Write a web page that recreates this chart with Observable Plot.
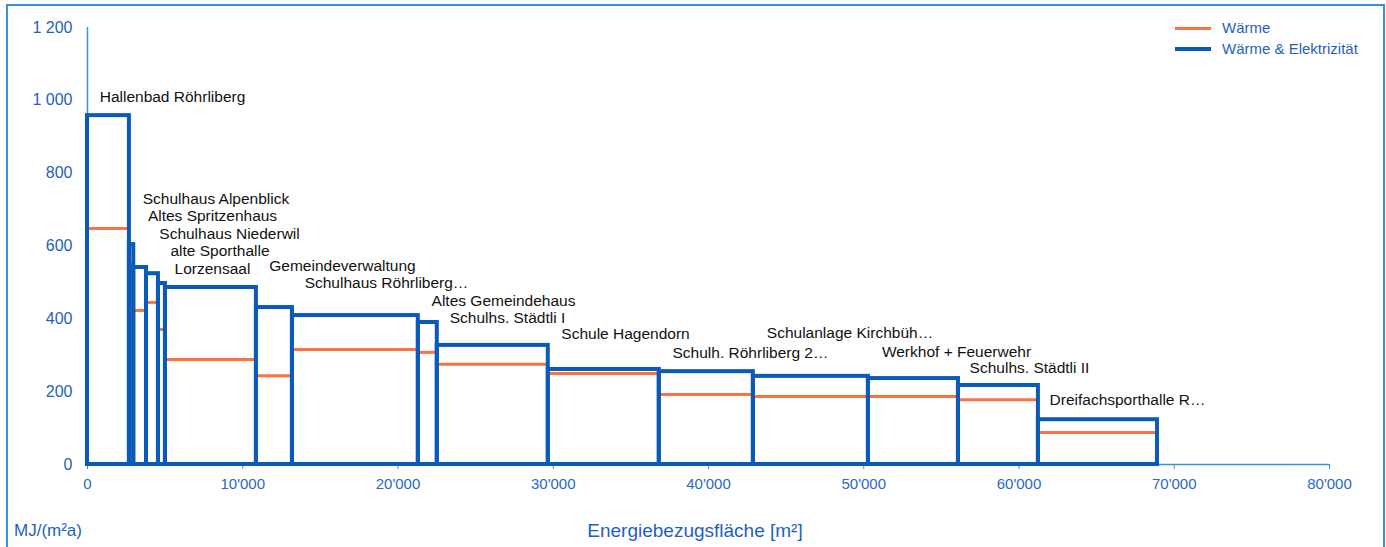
<!DOCTYPE html>
<html>
<head>
<meta charset="utf-8">
<script src="https://cdn.jsdelivr.net/npm/d3@7"></script>
<script src="https://cdn.jsdelivr.net/npm/@observablehq/plot@0.6"></script>
<style>
  html, body { margin: 0; padding: 0; background: #fff; }
  body { width: 1386px; height: 547px; position: relative; overflow: hidden; font-family: "Liberation Sans", Arial, sans-serif; }
  #frame { position: absolute; left: 6px; top: 4px; width: 1375px; height: 600px; border: 2px solid #3a8fe3; pointer-events: none; }
  #chart { position: absolute; left: 0; top: 0; }
  .lg { position: absolute; font-size: 15px; color: #1f5fbf; white-space: nowrap; }
  .sw { position: absolute; height: 3px; width: 36px; }
  .ttl { position: absolute; color: #1f5fbf; white-space: nowrap; }
</style>
</head>
<body>
<div id="chart"></div>
<div id="frame"></div>
<div class="sw" style="left:1175px;top:27px;background:#ff7043"></div>
<div class="lg" style="left:1222px;top:19px">Wärme</div>
<div class="sw" style="left:1175px;top:47px;height:4px;background:#0a5ab9"></div>
<div class="lg" style="left:1222px;top:40px">Wärme &amp; Elektrizität</div>
<div class="ttl" style="left:14px;top:521px;font-size:17px">MJ/(m²a)</div>
<div class="ttl" style="left:695px;top:520px;font-size:19px;transform:translateX(-50%)">Energiebezugsfläche [m²]</div>
<script>
const names = ["Hallenbad Röhrliberg", "Schulhaus Alpenblick", "Altes Spritzenhaus", "Schulhaus Niederwil", "alte Sporthalle", "Lorzensaal", "Gemeindeverwaltung", "Schulhaus Röhrliberg…", "Altes Gemeindehaus", "Schulhs. Städtli I", "Schule Hagendorn", "Schulh. Röhrliberg 2…", "Schulanlage Kirchbüh…", "Werkhof + Feuerwehr", "Schulhs. Städtli II", "Dreifachsporthalle R…"];
const areas = [2700, 280, 820, 770, 450, 5860, 2320, 8110, 1220, 7150, 7150, 6060, 7410, 5800, 5150, 7670];
const waerme = [648, 552, 423, 445, 371, 288, 244, 316, 308, 275, 250, 192, 187, 187, 178, 88];
const waermeElektro = [958, 604, 541, 524, 497, 486, 431, 409, 390, 327, 261, 255, 242, 236, 217, 123];
// label anchors in data units (m², MJ/(m²a))
const labelX = [5475, 8277, 8052, 9147, 8535, 8052, 16425, 19259, 26796, 27053, 34654, 42705, 49114, 55974, 60676, 66989];
const labelY = [1008, 730, 681, 634, 585, 538, 544, 497, 450, 401, 357, 305, 360, 310, 264, 176];
const xTicks = [0, 10000, 20000, 30000, 40000, 50000, 60000, 70000, 80000];
const yTicks = [0, 200, 400, 600, 800, 1000, 1200];

let acc = 0;
const rows = names.map((n, i) => {
  const x1 = acc; acc += areas[i];
  return { name: n, x1, x2: acc, heat: waerme[i], total: waermeElektro[i], lx: labelX[i], ly: labelY[i] };
});

const axisBlue = "#3a8fe3";
const textBlue = "#1f5fbf";
const xTextBlue = "#2a68c8";
const boxBlue = "#0a5ab9";
const orange = "#ff7043";

const fmtX = v => d3.format(",")(v).replace(/,/g, "'");
const fmtY = v => d3.format(",")(v).replace(/,/g, " ");

const chart = Plot.plot({
  width: 1386,
  height: 547,
  marginLeft: 87,
  marginRight: 57,
  marginTop: 27,
  marginBottom: 83,
  style: { fontFamily: "'Liberation Sans', Arial, sans-serif", fontSize: "14px", background: "transparent", overflow: "visible" },
  x: { domain: [0, 80000] },
  y: { domain: [0, 1200] },
  marks: [
    Plot.ruleX([0], { y1: 0, y2: 1200, stroke: axisBlue, strokeWidth: 1.5 }),
    Plot.ruleY([0], { x1: 0, x2: 80000, stroke: axisBlue, strokeWidth: 1.5 }),
    Plot.axisX({ ticks: xTicks, tickFormat: fmtX, tickSize: 5, tickPadding: 9, stroke: axisBlue, fill: xTextBlue, fontSize: 15, label: null }),
    Plot.axisY({ ticks: yTicks, tickFormat: fmtY, tickSize: 0, tickPadding: 15, fill: textBlue, fontSize: 16, label: null }),
    Plot.ruleY(rows, { x1: "x1", x2: "x2", y: "heat", stroke: orange, strokeWidth: 3 }),
    Plot.rect(rows, { x1: "x1", x2: "x2", y1: 0, y2: "total", stroke: boxBlue, strokeWidth: 4, fill: "none" }),
    Plot.text(rows, { x: "lx", y: "ly", text: "name", fill: "#111", fontSize: 15.5 })
  ]
});
document.getElementById("chart").appendChild(chart);
</script>
</body>
</html>
